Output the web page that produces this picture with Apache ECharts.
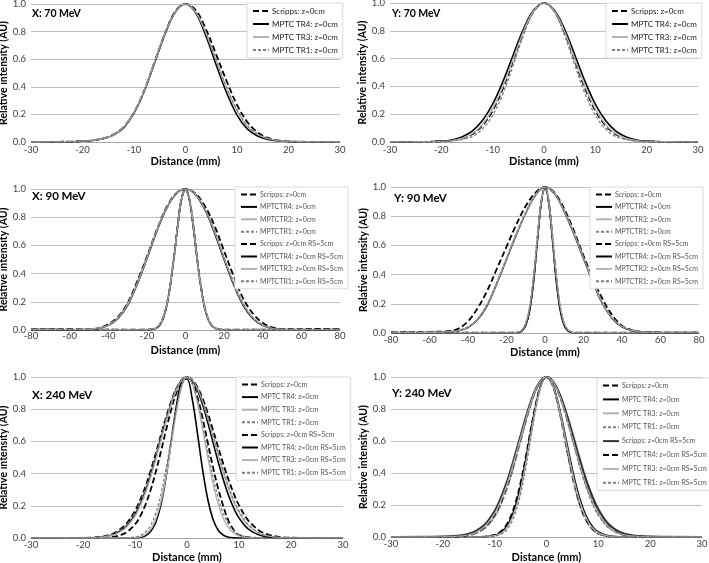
<!DOCTYPE html>
<html><head><meta charset="utf-8">
<script src="https://cdn.jsdelivr.net/npm/echarts@6/dist/echarts.min.js"></script>
<style>html,body{margin:0;padding:0;background:#fff}#c{width:709px;height:563px}</style>
</head><body><div id="c"></div>
<script>
// ---------- distances (mm) ----------
const dist70  = [-30,-26,-22,-20,-18,-16,-14,-12,-10,-8,-6,-4,-2,0,2,4,6,8,10,12,14,16,18,20,22,26,30];
const dist90n = [-80,-40,-24,-20,-16,-14,-12,-10,-8,-6,-4,-2,0,2,4,6,8,10,12,14,16,20,24,40,80];
const dist90w = [-80,-70,-60,-50,-45,-40,-35,-30,-25,-20,-15,-10,-5,0,5,10,15,20,25,30,35,40,45,50,60,70,80];
const dist240 = [-30,-20,-15,-12,-10,-9,-8,-7,-6,-5,-4,-3,-2,-1,0,1,2,3,4,5,6,7,8,9,10,12,15,20,30];

// ---------- X: 70 MeV ----------
const X70_Scripps = [0,0.001,0.003,0.006,0.012,0.026,0.054,0.11,0.215,0.375,0.58,0.785,0.945,1.0,0.955,0.815,0.63,0.44,0.27,0.145,0.07,0.03,0.012,0.005,0.002,0.001,0];
const X70_TR4     = [0,0.001,0.002,0.005,0.011,0.023,0.05,0.104,0.21,0.37,0.575,0.78,0.94,1.0,0.935,0.765,0.555,0.355,0.195,0.095,0.043,0.018,0.007,0.003,0.001,0,0];
const X70_TR3     = [0,0.001,0.003,0.006,0.012,0.025,0.052,0.108,0.215,0.375,0.58,0.785,0.94,1.0,0.94,0.785,0.585,0.385,0.225,0.115,0.055,0.025,0.011,0.005,0.002,0.001,0];
const X70_TR1     = [0,0.001,0.003,0.006,0.013,0.026,0.053,0.106,0.212,0.372,0.578,0.783,0.942,1.0,0.942,0.79,0.59,0.395,0.235,0.12,0.057,0.025,0.011,0.005,0.002,0.001,0];

// ---------- Y: 70 MeV ----------
const Y70_Scripps = [0,0.001,0.002,0.004,0.01,0.024,0.055,0.118,0.226,0.386,0.586,0.788,0.942,1.0,0.942,0.788,0.586,0.386,0.226,0.118,0.055,0.024,0.01,0.004,0.002,0.001,0];
const Y70_TR4     = [0,0.001,0.003,0.006,0.015,0.036,0.078,0.154,0.272,0.435,0.626,0.812,0.949,1.0,0.949,0.812,0.626,0.435,0.272,0.154,0.078,0.036,0.015,0.006,0.003,0.001,0];
const Y70_TR3     = [0,0.001,0.002,0.004,0.01,0.025,0.06,0.126,0.238,0.399,0.596,0.795,0.944,1.0,0.944,0.795,0.596,0.399,0.238,0.126,0.06,0.025,0.01,0.004,0.002,0.001,0];
const Y70_TR1     = [0,0.001,0.002,0.003,0.008,0.018,0.039,0.093,0.192,0.347,0.552,0.768,0.936,1.0,0.936,0.768,0.552,0.347,0.192,0.093,0.039,0.018,0.008,0.003,0.002,0.001,0];

// ---------- X: 90 MeV ----------
const X90N_Scripps = [0.004,0.003,0.002,0.002,0.009,0.026,0.07,0.158,0.31,0.515,0.75,0.935,1.0,0.93,0.745,0.515,0.31,0.158,0.07,0.026,0.009,0.002,0.002,0.003,0.004];
const X90N_TR4     = [0.002,0.001,0.001,0.001,0.008,0.025,0.068,0.155,0.305,0.51,0.74,0.93,1.0,0.925,0.735,0.505,0.3,0.15,0.066,0.025,0.008,0.001,0,0.001,0.002];
const X90N_TR3     = [0.003,0.002,0.001,0.002,0.01,0.028,0.072,0.16,0.31,0.515,0.745,0.93,1.0,0.928,0.742,0.512,0.305,0.155,0.07,0.027,0.009,0.002,0.001,0.002,0.003];
const X90N_TR1     = [0.005,0.004,0.003,0.003,0.011,0.03,0.074,0.163,0.315,0.52,0.75,0.932,1.0,0.93,0.748,0.518,0.312,0.16,0.073,0.029,0.01,0.003,0.003,0.004,0.005];
const X90W_Scripps = [0.005,0.005,0.004,0.006,0.014,0.04,0.092,0.19,0.345,0.52,0.705,0.865,0.967,1.0,0.97,0.88,0.74,0.56,0.38,0.22,0.115,0.05,0.018,0.006,0.005,0.008,0.006];
const X90W_TR4     = [0.003,0.003,0.002,0.004,0.011,0.033,0.082,0.175,0.325,0.505,0.695,0.857,0.963,1.0,0.962,0.855,0.69,0.50,0.32,0.172,0.08,0.032,0.011,0.004,0.002,0.002,0.003];
const X90W_TR3     = [0.004,0.004,0.003,0.005,0.012,0.035,0.085,0.18,0.33,0.51,0.70,0.86,0.965,1.0,0.965,0.86,0.70,0.51,0.33,0.18,0.085,0.035,0.012,0.004,0.002,0.003,0.004];
const X90W_TR1     = [0.006,0.005,0.004,0.006,0.013,0.037,0.088,0.185,0.335,0.515,0.70,0.862,0.966,1.0,0.966,0.862,0.705,0.515,0.335,0.185,0.088,0.037,0.013,0.005,0.004,0.005,0.005];

// ---------- Y: 90 MeV ----------
const Y90N_Scripps = [0.003,0.003,0.002,0.002,0.002,0.005,0.017,0.059,0.163,0.36,0.635,0.893,1.0,0.893,0.635,0.36,0.163,0.059,0.017,0.005,0.002,0.002,0.002,0.003,0.003];
const Y90N_TR4     = [0.001,0.001,0,0,0.001,0.004,0.015,0.053,0.15,0.345,0.622,0.888,1.0,0.888,0.62,0.342,0.148,0.051,0.014,0.003,0.001,0,0,0.001,0.001];
const Y90N_TR3     = [0.002,0.002,0.001,0.001,0.002,0.006,0.021,0.067,0.177,0.378,0.649,0.898,1.0,0.898,0.649,0.378,0.177,0.067,0.021,0.006,0.002,0.001,0.001,0.002,0.002];
const Y90N_TR1     = [0.004,0.003,0.002,0.002,0.003,0.006,0.019,0.063,0.17,0.37,0.642,0.895,1.0,0.895,0.64,0.368,0.168,0.062,0.019,0.005,0.002,0.002,0.002,0.003,0.004];
const Y90W_Scripps = [0.004,0.006,0.008,0.012,0.03,0.08,0.17,0.29,0.44,0.59,0.74,0.87,0.96,1.0,0.96,0.85,0.70,0.53,0.37,0.23,0.12,0.05,0.02,0.008,0.003,0.002,0.002];
const Y90W_TR4     = [0.002,0.002,0.004,0.007,0.015,0.038,0.092,0.19,0.34,0.505,0.67,0.822,0.944,1.0,0.953,0.832,0.68,0.51,0.345,0.197,0.098,0.043,0.017,0.006,0.002,0.001,0.001];
const Y90W_TR3     = [0.002,0.003,0.005,0.008,0.016,0.04,0.095,0.195,0.345,0.51,0.675,0.825,0.945,1.0,0.955,0.835,0.685,0.515,0.35,0.20,0.10,0.045,0.018,0.007,0.002,0.001,0.001];
const Y90W_TR1     = [0.005,0.006,0.008,0.01,0.018,0.042,0.097,0.198,0.348,0.512,0.677,0.827,0.946,1.0,0.956,0.837,0.687,0.517,0.352,0.202,0.102,0.046,0.019,0.008,0.003,0.002,0.002];

// ---------- X: 240 MeV ----------
const X240_Scripps   = [0,0,0.004,0.029,0.085,0.135,0.206,0.298,0.411,0.539,0.674,0.801,0.906,0.976,1,0.968,0.877,0.744,0.591,0.44,0.306,0.195,0.105,0.05,0.02,0.004,0,0,0];
const X240_TR4       = [0,0,0,0,0.001,0.004,0.014,0.04,0.098,0.209,0.383,0.607,0.828,0.974,0.988,0.865,0.653,0.425,0.239,0.116,0.048,0.017,0.005,0.001,0,0,0,0,0];
const X240_TR3       = [0,0,0,0.001,0.003,0.008,0.022,0.055,0.118,0.226,0.386,0.586,0.788,0.942,1,0.958,0.841,0.678,0.5,0.339,0.211,0.12,0.063,0.03,0.013,0.002,0,0,0];
const X240_TR1       = [0,0,0,0.001,0.006,0.015,0.036,0.078,0.154,0.272,0.435,0.626,0.812,0.949,1,0.962,0.857,0.707,0.539,0.381,0.249,0.151,0.085,0.044,0.021,0.004,0,0,0];
const X240_ScrippsRS = [0,0.001,0.018,0.077,0.169,0.237,0.32,0.418,0.527,0.641,0.752,0.852,0.931,0.982,1,0.984,0.938,0.866,0.775,0.671,0.563,0.458,0.361,0.275,0.203,0.101,0.028,0.002,0];
const X240_TR4RS     = [0,0.001,0.013,0.063,0.146,0.211,0.292,0.39,0.501,0.618,0.735,0.841,0.926,0.981,1,0.979,0.92,0.829,0.717,0.594,0.473,0.36,0.264,0.185,0.125,0.05,0.009,0,0];
const X240_TR3RS     = [0,0,0.011,0.056,0.135,0.198,0.278,0.375,0.487,0.607,0.726,0.835,0.923,0.98,1,0.982,0.929,0.847,0.744,0.63,0.514,0.404,0.306,0.223,0.157,0.07,0.016,0.001,0];
const X240_TR1RS     = [0,0.001,0.016,0.07,0.157,0.223,0.306,0.404,0.514,0.63,0.744,0.847,0.929,0.982,1,0.982,0.931,0.852,0.752,0.641,0.527,0.418,0.32,0.237,0.169,0.077,0.018,0.001,0];

// ---------- Y: 240 MeV ----------
const Y240_Scripps   = [0,0,0,0.002,0.013,0.03,0.063,0.12,0.211,0.339,0.5,0.678,0.841,0.958,1,0.962,0.857,0.707,0.539,0.381,0.249,0.151,0.085,0.044,0.021,0.004,0,0,0];
const Y240_TR4       = [0,0,0,0.001,0.01,0.024,0.053,0.106,0.192,0.317,0.48,0.662,0.832,0.955,1,0.966,0.871,0.732,0.575,0.421,0.288,0.183,0.109,0.06,0.031,0.007,0,0,0];
const Y240_TR3       = [0,0,0,0.001,0.008,0.019,0.044,0.092,0.172,0.295,0.458,0.644,0.823,0.952,1,0.964,0.864,0.72,0.557,0.401,0.269,0.167,0.097,0.052,0.026,0.005,0,0,0];
const Y240_TR1       = [0,0,0,0.001,0.005,0.014,0.034,0.075,0.15,0.268,0.43,0.622,0.81,0.948,1,0.96,0.853,0.7,0.53,0.372,0.24,0.144,0.08,0.041,0.019,0.003,0,0,0];
const Y240_ScrippsRS = [0,0.002,0.02,0.075,0.162,0.228,0.311,0.408,0.518,0.633,0.746,0.848,0.93,0.982,1,0.983,0.932,0.854,0.755,0.645,0.531,0.422,0.324,0.241,0.173,0.08,0.02,0.002,0];
const Y240_TR4RS     = [0,0,0.011,0.056,0.135,0.198,0.278,0.375,0.487,0.607,0.726,0.835,0.923,0.98,1,0.981,0.926,0.841,0.735,0.618,0.501,0.39,0.292,0.211,0.146,0.063,0.013,0.001,0];
const Y240_TR3RS     = [0,0.001,0.013,0.063,0.146,0.211,0.292,0.39,0.501,0.618,0.735,0.841,0.926,0.981,1,0.981,0.926,0.841,0.735,0.618,0.501,0.39,0.292,0.211,0.146,0.063,0.013,0.001,0];
const Y240_TR1RS     = [0,0,0.009,0.05,0.125,0.185,0.264,0.36,0.473,0.594,0.717,0.829,0.92,0.979,1,0.98,0.923,0.835,0.726,0.607,0.487,0.375,0.278,0.198,0.135,0.056,0.011,0,0];

// ---------- labels ----------
const yTicks = [0, 0.2, 0.4, 0.6, 0.8, 1.0];
const xAxisTitle = 'Distance (mm)';
const yAxisTitle = 'Relative intensity (AU)';

// ---------- styles ----------
const FONT = 'Lato, "Open Sans", sans-serif';
const ST = {
  blackDash: {color:'#000', type:[6,3], width:1.8},
  black:     {color:'#000', type:'solid', width:1.6},
  dark:      {color:'#333', type:'solid', width:2.2},
  gray:      {color:'#b3b3b3', type:'solid', width:1.4},
  grayDash:  {color:'#7f7f7f', type:[3,2], width:1.3}
};

const panels = [
  {key:'X70', title:'X: 70 MeV', grid:[31,4,309,138], xr:[-30,30,10], tt:[32,8,10.5], xng:13, yng:17, lm:3,
   lg:{left:247, top:3, fs:8, lh:10, gap:3, col:'#222'},
   s:[['Scripps: z=0cm',dist70,X70_Scripps,'blackDash'],['MPTC TR4: z=0cm',dist70,X70_TR4,'black'],
      ['MPTC TR3: z=0cm',dist70,X70_TR3,'gray'],['MPTC TR1: z=0cm',dist70,X70_TR1,'grayDash']]},
  {key:'Y70', title:'Y: 70 MeV', grid:[390,3,308,139], xr:[-30,30,10], tt:[392,8,10.5], xng:13, yng:20, lm:3,
   lg:{left:606, top:3, fs:8, lh:10, gap:3, col:'#222'},
   s:[['Scripps: z=0cm',dist70,Y70_Scripps,'blackDash'],['MPTC TR4: z=0cm',dist70,Y70_TR4,'black'],
      ['MPTC TR3: z=0cm',dist70,Y70_TR3,'gray'],['MPTC TR1: z=0cm',dist70,Y70_TR1,'grayDash']]},
  {key:'X90', title:'X: 90 MeV', grid:[31,189,309,141], xr:[-80,80,20], tt:[32,190,11.5], xng:15, yng:16.5, lm:1,
   lg:{left:235, top:187, fs:7, lh:9, gap:3.4, col:'#555'},
   s:[['Scripps: z=0cm',dist90n,X90N_Scripps,'blackDash'],['MPTCTR4: z=0cm',dist90n,X90N_TR4,'black'],
      ['MPTCTR3: z=0cm',dist90n,X90N_TR3,'gray'],['MPTCTR1: z=0cm',dist90n,X90N_TR1,'grayDash'],
      ['Scripps: z=0cm RS=5cm',dist90w,X90W_Scripps,'blackDash'],['MPTCTR4: z=0cm RS=5cm',dist90w,X90W_TR4,'black'],
      ['MPTCTR3: z=0cm RS=5cm',dist90w,X90W_TR3,'gray'],['MPTCTR1: z=0cm RS=5cm',dist90w,X90W_TR1,'grayDash']]},
  {key:'Y90', title:'Y: 90 MeV', grid:[391,187,308,146], xr:[-80,80,20], tt:[394,192,11.5], xng:14, yng:17, lm:2,
   lg:{left:590, top:187, fs:7, lh:9, gap:3.4, col:'#555'},
   s:[['Scripps: z=0cm',dist90n,Y90N_Scripps,'blackDash'],['MPTCTR4: z=0cm',dist90n,Y90N_TR4,'black'],
      ['MPTCTR3: z=0cm',dist90n,Y90N_TR3,'gray'],['MPTCTR1: z=0cm',dist90n,Y90N_TR1,'grayDash'],
      ['Scripps: z=0cm RS=5cm',dist90w,Y90W_Scripps,'blackDash'],['MPTCTR4: z=0cm RS=5cm',dist90w,Y90W_TR4,'black'],
      ['MPTCTR3: z=0cm RS=5cm',dist90w,Y90W_TR3,'gray'],['MPTCTR1: z=0cm RS=5cm',dist90w,Y90W_TR1,'grayDash']]},
  {key:'X240', title:'X: 240 MeV', grid:[31,377,312,161], xr:[-30,30,10], tt:[32,389,11.5], xng:14, yng:16.5, lm:2,
   lg:{left:236, top:377, fs:7, lh:9, gap:3.6, col:'#555'},
   s:[['Scripps: z=0cm',dist240,X240_Scripps,'blackDash'],['MPTC TR4: z=0cm',dist240,X240_TR4,'black'],
      ['MPTC TR3: z=0cm',dist240,X240_TR3,'gray'],['MPTC TR1: z=0cm',dist240,X240_TR1,'grayDash'],
      ['Scripps: z=0cm RS=5cm',dist240,X240_ScrippsRS,'blackDash'],['MPTC TR4: z=0cm RS=5cm',dist240,X240_TR4RS,'black'],
      ['MPTC TR3: z=0cm RS=5cm',dist240,X240_TR3RS,'gray'],['MPTC TR1: z=0cm RS=5cm',dist240,X240_TR1RS,'grayDash']]},
  {key:'Y240', title:'Y: 240 MeV', grid:[391,377,311,160], xr:[-30,30,10], tt:[392,387,11.5], xng:14.5, yng:18, lm:2,
   lg:{left:597, top:378, fs:7, lh:9, gap:4.9, col:'#555'},
   s:[['Scripps: z=0cm',dist240,Y240_Scripps,'blackDash'],['MPTC TR4: z=0cm',dist240,Y240_TR4,'black'],
      ['MPTC TR3: z=0cm',dist240,Y240_TR3,'gray'],['MPTC TR1: z=0cm',dist240,Y240_TR1,'grayDash'],
      ['Scripps: z=0cm RS=5cm',dist240,Y240_ScrippsRS,'dark'],['MPTC TR4: z=0cm RS=5cm',dist240,Y240_TR4RS,'blackDash'],
      ['MPTC TR3: z=0cm RS=5cm',dist240,Y240_TR3RS,'gray'],['MPTC TR1: z=0cm RS=5cm',dist240,Y240_TR1RS,'grayDash']]}
];

const grid = [], xAxis = [], yAxis = [], series = [], legend = [], title = [];
panels.forEach((p, i) => {
  grid.push({left:p.grid[0], top:p.grid[1], width:p.grid[2], height:p.grid[3], containLabel:false, outerBoundsMode:'none'});
  title.push({text:p.title, left:p.tt[0], top:p.tt[1], padding:0,
    textStyle:{fontFamily:FONT, fontSize:p.tt[2], fontWeight:'bold', color:'#000'}});
  xAxis.push({type:'value', gridIndex:i, min:p.xr[0], max:p.xr[1], interval:p.xr[2],
    name:xAxisTitle, nameLocation:'middle', nameGap:p.xng,
    nameTextStyle:{fontFamily:FONT, fontSize:11, fontWeight:'bold', color:'#000'},
    axisLine:{show:true, lineStyle:{color:'#a6a6a6', width:1}},
    axisTick:{show:false},
    splitLine:{show:false},
    axisLabel:{fontFamily:FONT, fontSize:9.5, color:'#404040', margin:p.lm}});
  yAxis.push({type:'value', gridIndex:i, min:0, max:1, interval:0.2,
    name:yAxisTitle, nameLocation:'middle', nameGap:p.yng,
    nameTextStyle:{fontFamily:FONT, fontSize:10.5, fontWeight:'bold', color:'#000'},
    axisLine:{show:false}, axisTick:{show:false},
    splitLine:{show:true, lineStyle:{color:'#bfbfbf', width:1}},
    axisLabel:{fontFamily:FONT, fontSize:9.5, color:'#404040', margin:5,
      formatter:v => yTicks.includes(+v.toFixed(1)) ? v.toFixed(1) : ''}});
  const names = [];
  p.s.forEach(([label, dist, vals, st]) => {
    const nm = p.key + '|' + label;
    names.push(nm);
    series.push({type:'line', name:nm, xAxisIndex:i, yAxisIndex:i, symbol:'none', smooth:0.35,
      silent:true, animation:false, lineStyle:Object.assign({}, ST[st]), itemStyle:{color:ST[st].color},
      data:dist.map((d, k) => [d, vals[k]])});
  });
  legend.push({data:names, orient:'vertical', left:p.lg.left, top:p.lg.top, itemWidth:16, itemHeight:8,
    itemGap:p.lg.gap, padding:[3,5,3,5], backgroundColor:'#fff', borderColor:'#d9d9d9', borderWidth:1,
    borderRadius:0, selectedMode:false, inactiveColor:'#000',
    itemStyle:{opacity:0},
    formatter:n => n.split('|')[1],
    textStyle:{fontFamily:FONT, fontSize:p.lg.fs, lineHeight:p.lg.lh, color:p.lg.col, padding:[0,0,0,-2]}});
});

const chart = echarts.init(document.getElementById('c'), null, {renderer:'canvas'});
chart.setOption({backgroundColor:'#fff', animation:false, title, grid, xAxis, yAxis, legend, series});
</script>
</body></html>
